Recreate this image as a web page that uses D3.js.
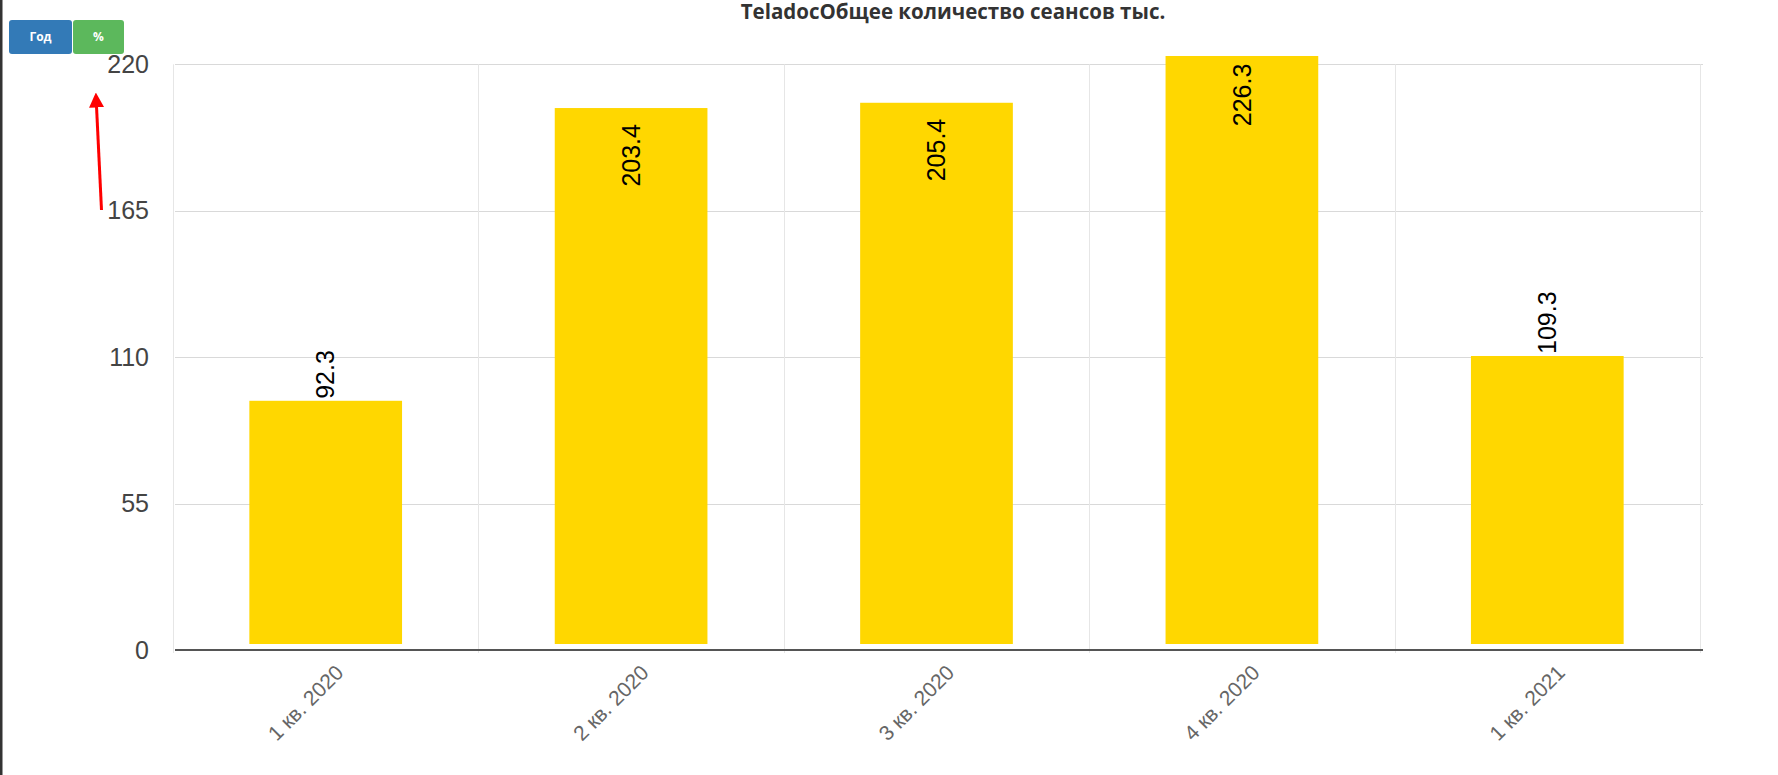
<!DOCTYPE html>
<html>
<head>
<meta charset="utf-8">
<script src="https://cdn.jsdelivr.net/npm/d3@7"></script>
<style>
  html, body { margin: 0; padding: 0; background: #fff; }
  svg { display: block; }
</style>
</head>
<body>
<svg id="chart" width="1778" height="775"></svg>
<script>
const categories = ["1 кв. 2020", "2 кв. 2020", "3 кв. 2020", "4 кв. 2020", "1 кв. 2021"];
const values = [92.3, 203.4, 205.4, 226.3, 109.3];
const yTicks = [0, 55, 110, 165, 220];
const titleText = "TeladocОбщее количество сеансов тыс.";
const buttons = [{label: "Год", color: "#337ab7"}, {label: "%", color: "#5cb85c"}];

const svg = d3.select("#chart");
const W = 1778, H = 775;
const plotLeft = 173, plotRight = 1700, plotTop = 64.3, zeroY = 650;

// left page border
svg.append("rect").attr("x", 0).attr("y", 0).attr("width", 2.5).attr("height", H).attr("fill", "#333");

const x = d3.scaleBand().domain(categories).range([plotLeft, plotRight]).paddingInner(0.5).paddingOuter(0.25);
const yAxis = d3.scaleLinear().domain([0, 220]).range([zeroY, plotTop]);
const yBar = d3.scaleLinear().domain([0, 220]).range([644, plotTop]);

// grid: horizontal
const grid = svg.append("g");
grid.selectAll("line.h").data(yTicks.filter(t => t > 0)).join("line")
  .attr("x1", plotLeft + 2).attr("x2", plotRight + 3)
  .attr("y1", d => Math.round(yAxis(d)) + 0.5).attr("y2", d => Math.round(yAxis(d)) + 0.5)
  .attr("stroke", "#d9d9d9").attr("stroke-width", 1);
// grid: vertical at category boundaries
const step = x.step();
const bounds = d3.range(categories.length + 1).map(i => plotLeft + i * step);
grid.selectAll("line.v").data(bounds).join("line")
  .attr("x1", d => Math.round(d) + 0.5).attr("x2", d => Math.round(d) + 0.5)
  .attr("y1", plotTop).attr("y2", zeroY + 3)
  .attr("stroke", "#e6e6e6").attr("stroke-width", 1);

// clip for bars
svg.append("clipPath").attr("id", "clip").append("rect")
  .attr("x", plotLeft).attr("y", plotTop - 8.3).attr("width", plotRight - plotLeft).attr("height", zeroY - plotTop + 8.3);

svg.append("g").attr("clip-path", "url(#clip)")
  .selectAll("rect").data(values).join("rect")
  .attr("x", (d, i) => x(categories[i]))
  .attr("width", x.bandwidth())
  .attr("y", d => yBar(d))
  .attr("height", d => yBar(0) - yBar(d))
  .attr("fill", "#FFD700");

// axis line
svg.append("line").attr("x1", plotLeft + 2).attr("x2", plotRight + 3)
  .attr("y1", zeroY).attr("y2", zeroY).attr("stroke", "#555").attr("stroke-width", 2);

// y labels
svg.append("g").selectAll("text").data(yTicks).join("text")
  .attr("x", 149).attr("y", d => yAxis(d)).attr("dy", "0.35em")
  .attr("text-anchor", "end")
  .attr("font-family", "Liberation Sans, Arial, sans-serif")
  .attr("font-size", 25).attr("fill", "#444")
  .text(d => d);

// x labels
svg.append("g").selectAll("text").data(categories).join("text")
  .attr("transform", d => `translate(${x(d) + x.bandwidth() / 2 + 19},${674}) rotate(-45)`)
  .attr("text-anchor", "end")
  .attr("font-family", "Liberation Sans, Arial, sans-serif")
  .attr("font-size", 21).attr("fill", "#666")
  .text(d => d);

// value labels
const labels = svg.append("g").selectAll("text").data(values).join("text")
  .attr("font-family", "Liberation Sans, Arial, sans-serif")
  .attr("font-size", 25).attr("fill", "#000")
  .attr("dy", "0.35em")
  .text(d => d.toFixed(1));
labels.each(function(d, i) {
  const len = this.getComputedTextLength();
  const cx = x(categories[i]) + x.bandwidth() / 2;
  const top = yBar(d);
  const el = d3.select(this);
  if (top - 2 - len >= plotTop - 8) {
    el.attr("text-anchor", "start").attr("transform", `translate(${cx},${top - 2}) rotate(-90)`);
  } else {
    el.attr("text-anchor", "end").attr("transform", `translate(${cx},${top + 16}) rotate(-90)`);
  }
});

// title
svg.append("text").attr("x", 953).attr("y", 19)
  .attr("text-anchor", "middle")
  .attr("font-family", "Open Sans, sans-serif").attr("font-weight", "bold")
  .attr("font-size", 20.5).attr("fill", "#333")
  .text(titleText);

// buttons
const btnX = [9, 73], btnW = [63, 51];
const bg = svg.append("g").selectAll("g").data(buttons).join("g");
bg.append("rect")
  .attr("x", (d, i) => btnX[i]).attr("y", 20).attr("width", (d, i) => btnW[i]).attr("height", 34)
  .attr("rx", 3).attr("fill", d => d.color);
bg.append("text")
  .attr("x", (d, i) => btnX[i] + btnW[i] / 2).attr("y", 37).attr("dy", "0.35em")
  .attr("text-anchor", "middle")
  .attr("font-family", "Open Sans, sans-serif").attr("font-weight", "bold")
  .attr("font-size", 12).attr("fill", "#fff")
  .text(d => d.label);

// red arrow annotation
const defs = svg.append("defs");
defs.append("marker").attr("id", "arrow").attr("viewBox", "0 0 10 10")
  .attr("refX", 5).attr("refY", 5).attr("markerWidth", 5).attr("markerHeight", 5)
  .attr("orient", "auto-start-reverse")
  .append("path").attr("d", "M0,0 L10,5 L0,10 z").attr("fill", "#ff0000");
svg.append("line").attr("x1", 101.5).attr("y1", 210).attr("x2", 96.2).attr("y2", 100)
  .attr("stroke", "#ff0000").attr("stroke-width", 3)
  .attr("marker-end", "url(#arrow)");
</script>
</body>
</html>
